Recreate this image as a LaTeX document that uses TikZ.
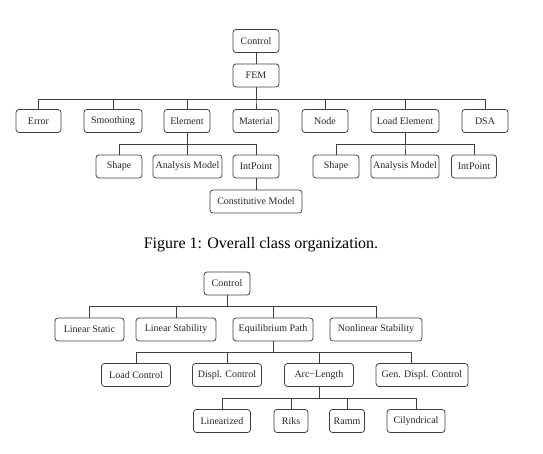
\documentclass[tikz,border=0pt]{standalone}
\usepackage{fontspec}
\setmainfont{Liberation Serif}
\begin{document}
\begin{tikzpicture}[x=1pt,y=-1pt,
  cbox/.style={draw=black!75, line width=0.8pt, rounded corners=3pt, minimum height=23pt, inner sep=1pt, font=\fontsize{10}{12}\selectfont, text=black!85},
  link/.style={draw=black!75, line width=0.8pt}]
\useasboundingbox (0,0) rectangle (543,454);
% ---------- Figure 1 ----------
\node[cbox, minimum width=46pt] (c1) at (256,41) {Control};
\node[cbox, minimum width=46pt] (fem) at (256,75.5) {FEM};
\coordinate (b1) at (0,99);
\node[cbox, minimum width=45pt] (err) at (38.5,121) {Error};
\node[cbox, minimum width=58pt] (smo) at (113,121) {Smoothing};
\node[cbox, minimum width=46pt] (ele) at (187,121) {Element};
\node[cbox, minimum width=46pt] (mat) at (256,121) {Material};
\node[cbox, minimum width=46pt] (nod) at (325,121) {Node};
\node[cbox, minimum width=68pt] (lel) at (405,121) {Load Element};
\node[cbox, minimum width=46pt] (dsa) at (485,121) {DSA};
\coordinate (b2) at (0,144);
\node[cbox, minimum width=46pt] (sh1) at (119,166.5) {Shape};
\node[cbox, minimum width=69pt] (am1) at (187.5,166.5) {Analysis Model};
\node[cbox, minimum width=46pt] (ip1) at (256,166.5) {IntPoint};
\node[cbox, minimum width=46pt] (sh2) at (336,166.5) {Shape};
\node[cbox, minimum width=68pt] (am2) at (405,166.5) {Analysis Model};
\node[cbox, minimum width=45pt] (ip2) at (474,166.5) {IntPoint};
\node[cbox, minimum width=92pt] (cm) at (256,201.5) {Constitutive Model};
\draw[link] (c1) -- (fem);
\foreach \c in {err,smo,ele,mat,nod,lel,dsa}
  \draw[link] (fem.south) -- (fem.south |- b1) -| (\c.north);
\foreach \c in {sh1,am1,ip1}
  \draw[link] (ele.south) -- (ele.south |- b2) -| (\c.north);
\foreach \c in {sh2,am2,ip2}
  \draw[link] (lel.south) -- (lel.south |- b2) -| (\c.north);
\draw[link] (ip1) -- (cm);
\node[font=\fontsize{16}{19}\selectfont] (cap) at (261,245) {Figure 1: Overall class organization.};
% ---------- Figure 2 ----------
\node[cbox, minimum width=46pt] (c2) at (227,283.5) {Control};
\coordinate (b3) at (0,306);
\node[cbox, minimum width=69pt] (lst) at (89.5,329.5) {Linear Static};
\node[cbox, minimum width=80pt] (lsb) at (176,329.5) {Linear Stability};
\node[cbox, minimum width=80pt] (eqp) at (273,329.5) {Equilibrium Path};
\node[cbox, minimum width=92pt] (nls) at (376,329.5) {Nonlinear Stability};
\coordinate (b4) at (0,352);
\node[cbox, minimum width=69pt] (lc) at (136,375) {Load Control};
\node[cbox, minimum width=69pt] (dc) at (227,375) {Displ. Control};
\node[cbox, minimum width=69pt] (al) at (319,375) {Arc−Length};
\node[cbox, minimum width=92pt] (gdc) at (422,375) {Gen. Displ. Control};
\coordinate (b5) at (0,398.5);
\node[cbox, minimum width=57pt] (lin) at (222,421) {Linearized};
\node[cbox, minimum width=34pt] (rik) at (291,421) {Riks};
\node[cbox, minimum width=35pt] (ram) at (347,421) {Ramm};
\node[cbox, minimum width=58pt] (cyl) at (416,421) {Cilyndrical};
\foreach \c in {lst,lsb,eqp,nls}
  \draw[link] (c2.south) -- (c2.south |- b3) -| (\c.north);
\foreach \c in {lc,dc,al}
  \draw[link] (eqp.south) -- (eqp.south |- b4) -| (\c.north);
\draw[link] (eqp.south) -- (eqp.south |- b4) -| ([xshift=-11pt]gdc.north);
\foreach \c in {lin,rik,ram,cyl}
  \draw[link] (al.south) -- (al.south |- b5) -| (\c.north);
\end{tikzpicture}
\end{document}
